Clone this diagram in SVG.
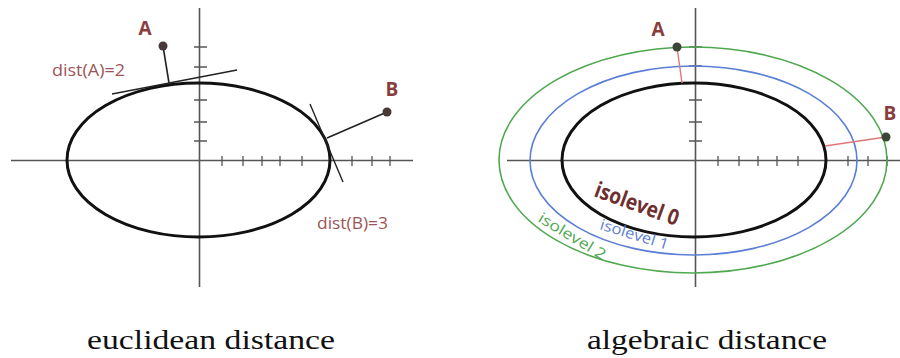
<svg xmlns="http://www.w3.org/2000/svg" width="900" height="358" viewBox="0 0 900 358">
<style>
.axis{stroke:#555;stroke-width:1.6;fill:none}
.tick{stroke:#555;stroke-width:1.3}
.curve0{stroke:#111;stroke-width:3;fill:none}
.tan{stroke:#222;stroke-width:1.4}
.seg{stroke:#222;stroke-width:1.6}
.rseg{stroke:#d77;stroke-width:1.4}
.pt{fill:#4a3838}
.lbl{font-family:"Open Sans","DejaVu Sans",sans-serif;font-weight:bold;fill:#8b3d3d}
.dlbl{font-family:"Open Sans","DejaVu Sans",sans-serif;fill:#9b5555;font-size:16px}
.cap{font-family:"Liberation Serif","DejaVu Serif",serif;font-size:28px;fill:#111}
</style>
<rect width="900" height="358" fill="#fff"/>
<g id="euclidean">
  <g id="axes-left">
    <line class="axis" x1="199.5" y1="8" x2="199.5" y2="287"/>
    <line class="axis" x1="11" y1="160.5" x2="413" y2="160.5"/>
    <path class="tick" d="M194 47H207M194 67H207M194 83H207M194 100H207M194 122H207M194 141H207"/>
    <path class="tick" d="M222 156V166M243 156V166M262 156V166M280 156V166M302 156V166M352 156V166M372 156V166M390 156V166"/>
  </g>
  <ellipse id="curve-left" class="curve0" cx="198.5" cy="160" rx="131.5" ry="77"/>
  <g id="pointA-left">
    <line class="tan" x1="112" y1="94" x2="237" y2="70"/>
    <line class="seg" x1="163" y1="46" x2="169" y2="83"/>
    <circle class="pt" cx="163" cy="46" r="4.5"/>
    <text class="lbl" x="145" y="35" font-size="19" text-anchor="middle">A</text>
    <text class="dlbl" x="52" y="76" textLength="73" lengthAdjust="spacingAndGlyphs">dist(A)=2</text>
  </g>
  <g id="pointB-left">
    <line class="tan" x1="310" y1="104" x2="343" y2="182"/>
    <line class="seg" x1="387" y1="112" x2="327" y2="138"/>
    <circle class="pt" cx="387" cy="112" r="4.5"/>
    <text class="lbl" x="392" y="96" font-size="19" text-anchor="middle">B</text>
    <text class="dlbl" x="317" y="229" textLength="71" lengthAdjust="spacingAndGlyphs">dist(B)=3</text>
  </g>
  <text class="cap" x="87" y="349" textLength="248" lengthAdjust="spacingAndGlyphs">euclidean distance</text>
</g>
<g id="algebraic">
  <g id="axes-right">
    <line class="axis" x1="695.5" y1="8" x2="695.5" y2="287"/>
    <line class="axis" x1="507" y1="160.5" x2="900" y2="160.5"/>
    <path class="tick" d="M689 47H702M689 66H702M689 100H702M689 122H702M689 141H702"/>
    <path class="tick" d="M718 156V166M739 156V166M758 156V166M777 156V166M798 156V166M848 156V166M868 156V166M887 156V166"/>
  </g>
  <ellipse id="isolevel2" cx="693" cy="160" rx="194" ry="113" fill="none" stroke="#4fa84f" stroke-width="1.6"/>
  <ellipse id="isolevel1" cx="693.5" cy="160.5" rx="163.5" ry="94.5" fill="none" stroke="#5b7fd4" stroke-width="1.6"/>
  <ellipse id="isolevel0" class="curve0" cx="694" cy="160" rx="132" ry="77"/>
  <g id="pointA-right">
    <line class="rseg" x1="677" y1="47" x2="682" y2="83"/>
    <circle cx="677" cy="47" r="4.5" fill="#3b4638"/>
    <text class="lbl" x="658" y="36" font-size="19" text-anchor="middle">A</text>
  </g>
  <g id="pointB-right">
    <line class="rseg" x1="886" y1="137" x2="825" y2="146"/>
    <circle cx="886" cy="137" r="4.5" fill="#3b4638"/>
    <text class="lbl" x="890" y="120" font-size="19" text-anchor="middle">B</text>
  </g>
  <text font-family="Open Sans, DejaVu Sans, sans-serif" font-weight="bold" font-size="22" fill="#6e2f2f" transform="translate(593 196) rotate(20)" textLength="88" lengthAdjust="spacingAndGlyphs">isolevel 0</text>
  <text font-family="Open Sans, DejaVu Sans, sans-serif" font-size="15" fill="#5b7fd4" transform="translate(599 229) rotate(17)" textLength="71" lengthAdjust="spacingAndGlyphs">isolevel 1</text>
  <text font-family="Open Sans, DejaVu Sans, sans-serif" font-size="15" fill="#4fa84f" transform="translate(537 221) rotate(31)" textLength="76" lengthAdjust="spacingAndGlyphs">isolevel 2</text>
  <text class="cap" x="587" y="349" textLength="240" lengthAdjust="spacingAndGlyphs">algebraic distance</text>
</g>
</svg>
